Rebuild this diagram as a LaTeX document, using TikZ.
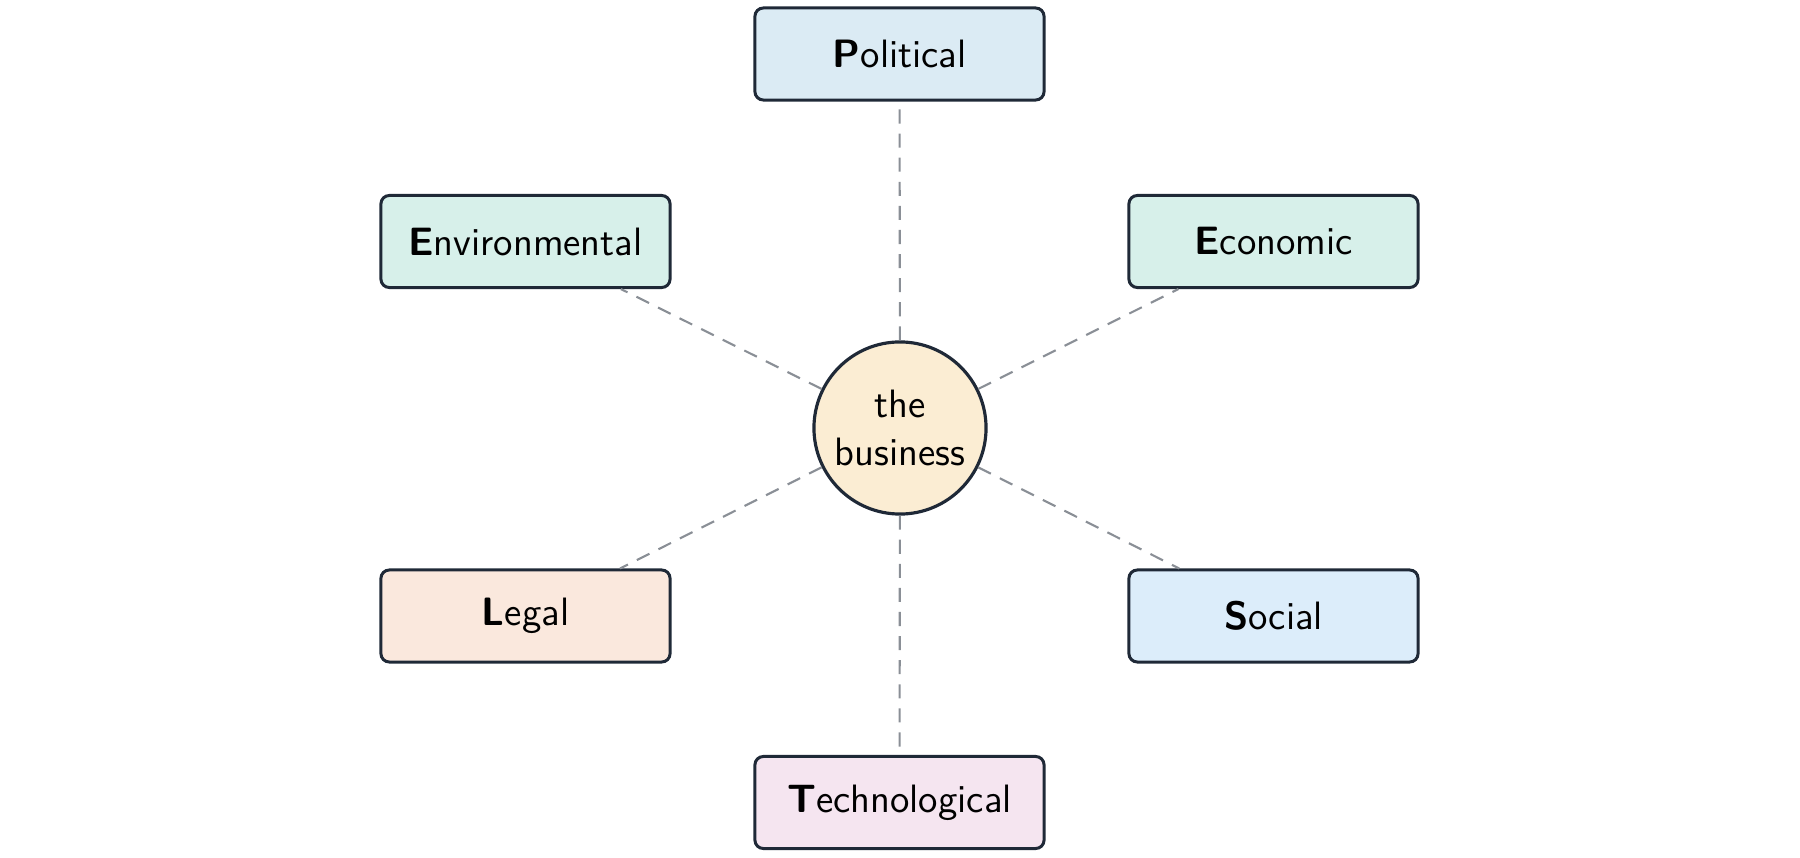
\documentclass[tikz,border=0pt]{standalone}
\renewcommand{\familydefault}{\sfdefault}
\definecolor{bordc}{HTML}{1F2937}
\definecolor{dashc}{HTML}{8A8F96}
\definecolor{polc}{HTML}{DBEBF4}
\definecolor{envc}{HTML}{D7F0EA}
\definecolor{legc}{HTML}{FAE8DD}
\definecolor{socc}{HTML}{DCEDFA}
\definecolor{tecc}{HTML}{F5E5F0}
\definecolor{busc}{HTML}{FBEDD3}
\tikzset{
  factor/.style={draw=bordc, line width=0.85pt, rounded corners=2.4pt, minimum width=2.89cm, minimum height=0.92cm, inner sep=0pt, font=\fontsize{11.25}{13.5}\selectfont},
  hub/.style={circle, draw=bordc, line width=0.9pt, fill=busc, minimum size=1.72cm, inner sep=0pt, align=center, font=\fontsize{11.25}{13.7}\selectfont},
  link/.style={draw=dashc, line width=0.6pt, dash pattern=on 4pt off 2.85pt}
}
\begin{document}
\begin{tikzpicture}[x=0.01cm, y=-0.01cm]
\useasboundingbox (0,0) rectangle (1800,858);
\node[hub] (c) at (900,428) {the\\business};
\node[factor, fill=polc] (p) at (899.5,54) {\textbf{P}olitical};
\node[factor, fill=envc] (env) at (525.5,241.5) {\textbf{E}nvironmental};
\node[factor, fill=envc] (eco) at (1273.5,241.5) {\textbf{E}conomic};
\node[factor, fill=legc] (l) at (525.5,616) {\textbf{L}egal};
\node[factor, fill=socc] (s) at (1273.5,616) {\textbf{S}ocial};
\node[factor, fill=tecc] (t) at (899.5,802.5) {\textbf{T}echnological};
\foreach \n in {p,env,eco,l,s,t} \draw[link] (c) -- (\n);
\end{tikzpicture}
\end{document}
